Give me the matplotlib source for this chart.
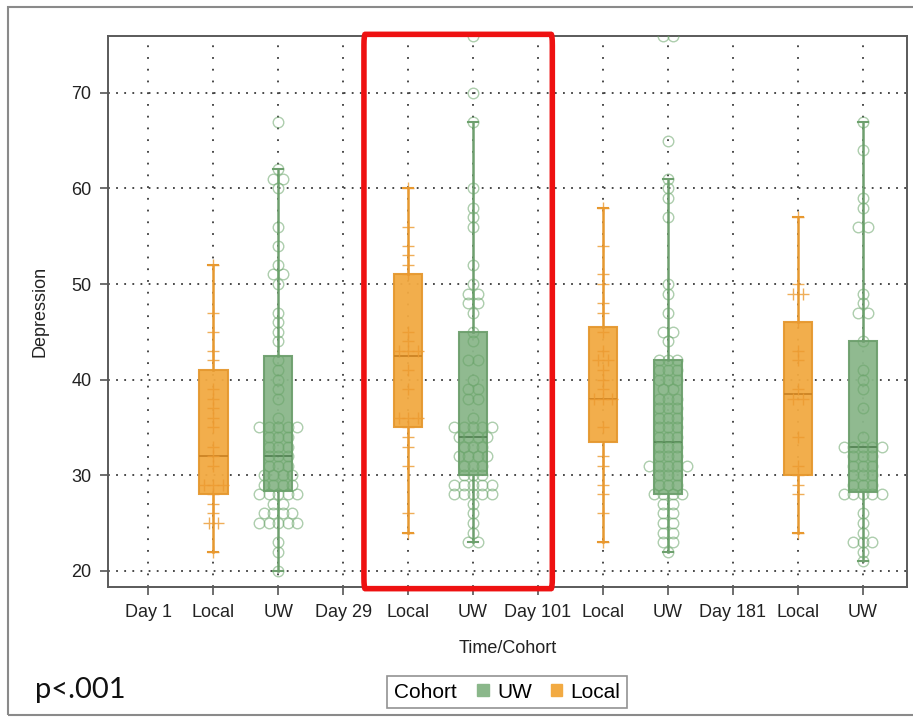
import matplotlib
matplotlib.use("Agg")
import numpy as np
import matplotlib.pyplot as plt
import matplotlib.transforms as mtransforms
from matplotlib.patches import Rectangle, Patch, FancyBboxPatch
from matplotlib.offsetbox import HPacker
from collections import Counter

plt.rcParams['font.family'] = ['Liberation Sans', 'DejaVu Sans']

# ---------------- data ----------------
tick_labels = ["Day 1", "Local", "UW", "Day 29", "Local", "UW",
               "Day 101", "Local", "UW", "Day 181", "Local", "UW"]
box_positions = [1, 2, 4, 5, 7, 8, 10, 11]
box_cohorts = ["Local", "UW", "Local", "UW", "Local", "UW", "Local", "UW"]
q1_vals = [28, 28.3, 35, 30, 33.5, 28, 30, 28.2]
median_vals = [32, 32, 42.5, 34, 38, 33.5, 38.5, 33]
q3_vals = [41, 42.5, 51, 45, 45.5, 42, 46, 44]
whisker_low = [22, 20, 24, 23, 23, 22, 24, 21]
whisker_high = [52, 62, 60, 67, 58, 61, 57, 67]

day1_local = [52, 47, 45, 43, 42, 39, 38, 37, 36, 35, 33, 32, 31, 29, 29, 29,
              28, 27, 26, 25, 25, 22]
day1_uw = ([67, 62, 61, 61, 60, 56, 54, 52, 51, 51, 50, 47, 46, 45, 44, 42, 41,
            40, 39, 38, 36] + [35] * 5 + [34] * 3 + [33] * 3 + [32] * 3 + [31] * 3
           + [30] * 4 + [29] * 4 + [28] * 5 + [27] * 2 + [26] * 4 + [25] * 5
           + [23, 22, 20])
day29_local = [60, 56, 54, 53, 52, 51, 45, 44, 43, 43, 43, 41, 39, 36, 36, 36,
               35, 34, 33, 31, 26, 24]
day29_uw = ([76, 70, 67, 60, 58, 57, 56, 52, 50, 49, 49, 48, 48, 47, 45, 44, 42,
             42, 40, 39, 39, 38, 38, 36] + [35] * 5 + [34] * 4 + [33] * 3
            + [32] * 4 + [31] * 3 + [30] * 3 + [29] * 5 + [28] * 5
            + [27, 26, 25, 24, 23, 23])
day101_local = [58, 54, 51, 50, 48, 47, 45, 43, 42, 42, 41, 40, 39, 38, 38, 38,
                35, 32, 31, 29, 28, 26, 23]
day101_uw = ([76, 76, 65, 61, 60, 59, 57, 50, 49, 47, 45, 45, 44] + [42] * 3
             + [41] * 3 + [40] * 3 + [39] * 2 + [38] * 3 + [37] * 3 + [36] * 3
             + [35] * 3 + [34] * 3 + [33] * 3 + [32] * 3 + [31] * 5 + [30] * 3
             + [29] * 3 + [28] * 4 + [27] * 2 + [26] * 2 + [25] * 2 + [24] * 2
             + [23] * 2 + [22])
day181_local = [57, 50, 49, 49, 46, 43, 42, 39, 38, 38, 34, 31, 30, 29, 28, 24]
day181_uw = ([67, 64, 59, 58, 56, 56, 49, 48, 47, 47, 44, 41, 40, 39, 37, 34]
             + [33] * 5 + [32] * 3 + [31] * 3 + [30] * 3 + [29] * 3 + [28] * 5
             + [26, 25, 24, 23, 23, 23, 22, 21])
group_points = [day1_local, day1_uw, day29_local, day29_uw,
                day101_local, day101_uw, day181_local, day181_uw]

y_ticks = [20, 30, 40, 50, 60, 70]

# ---------------- style ----------------
ORANGE_FILL = "#F2AA42"
ORANGE_EDGE = "#E5982F"
ORANGE_MED = "#C98020"
ORANGE_PT = "#EC9A30"
GREEN_FILL = "#8AB78A"
GREEN_EDGE = "#6E9F6E"
GREEN_MED = "#507F50"
GREEN_PT = "#6AA56A"

fig = plt.figure(figsize=(9.13, 7.21), dpi=100)
W, H = 913, 721
ax = fig.add_axes([108 / W, 1 - 587 / H, (907 - 108) / W, (587 - 36) / H])

ax.set_xlim(-0.62, 11.68)
ax.set_ylim(18.3, 75.95)

# grid
ax.set_axisbelow(True)
ax.grid(axis="y", linestyle=(0, (1, 3.5)), color="#3a3a3a", linewidth=1.3)
ax.grid(axis="x", linestyle=(0, (1, 5.5)), color="#3a3a3a", linewidth=1.3)

dx = 0.145
for pos, coh, lo, a, m, b, hi, pts in zip(box_positions, box_cohorts, whisker_low,
                                         q1_vals, median_vals, q3_vals,
                                         whisker_high, group_points):
    if coh == "Local":
        fill, edge, med = ORANGE_FILL, ORANGE_EDGE, ORANGE_MED
    else:
        fill, edge, med = GREEN_FILL, GREEN_EDGE, GREEN_MED
    stats = [dict(whislo=lo, q1=a, med=m, q3=b, whishi=hi, fliers=[])]
    ax.bxp(stats, positions=[pos], widths=0.44, capwidths=0.16,
           patch_artist=True, showfliers=False, manage_ticks=False,
           boxprops=dict(facecolor=fill, edgecolor=edge, linewidth=1.5, alpha=0.95),
           medianprops=dict(color=med, linewidth=1.2),
           whiskerprops=dict(color=edge, linewidth=1.8),
           capprops=dict(color=edge, linewidth=1.5))
    cnt = Counter(pts)
    xs, ys = [], []
    for v, n in cnt.items():
        offs = (np.arange(n) - (n - 1) / 2) * dx
        xs.extend(pos + offs)
        ys.extend([v] * n)
    if coh == "Local":
        ax.plot(xs, ys, linestyle="none", marker="+", markersize=9,
                markeredgewidth=1.0, color=ORANGE_PT, alpha=0.8, zorder=4)
    else:
        ax.plot(xs, ys, linestyle="none", marker="o", markersize=7.6,
                markerfacecolor="none", markeredgewidth=1.0,
                markeredgecolor=GREEN_PT, alpha=0.55, zorder=4)

ax.set_xticks(range(len(tick_labels)))
ax.set_xticklabels(tick_labels)
ax.set_yticks(y_ticks)
ax.tick_params(axis="both", direction="out", length=6, width=1.2,
               color="#555555", labelsize=13, labelcolor="#222222", pad=6)
for s in ax.spines.values():
    s.set_color("#5a5a5a")
    s.set_linewidth(1.4)

ax.set_xlabel("Time/Cohort", fontsize=13, color="#222222", labelpad=14)
ax.set_ylabel("Depression", fontsize=13, color="#222222", labelpad=16)

# highlight rectangle around Day 29 group
trans = mtransforms.blended_transform_factory(ax.transData, ax.transAxes)
hl = FancyBboxPatch((3.32, -0.003), 6.22 - 3.32, 1.006,
                    boxstyle="round,pad=0,rounding_size=0.02",
                    transform=trans, fill=False, edgecolor="#EE1111",
                    linewidth=4.0, clip_on=False, zorder=10)
ax.add_patch(hl)

# legend with title placed left of the entries
handles = [Patch(facecolor=GREEN_FILL, edgecolor=GREEN_FILL, label="UW"),
           Patch(facecolor=ORANGE_FILL, edgecolor=ORANGE_FILL, label="Local")]
leg = fig.legend(handles=handles, ncol=2, loc="center", title="Cohort",
                 title_fontsize=15,
                 bbox_to_anchor=(507 / W, 1 - 692 / H), fontsize=15,
                 frameon=True, fancybox=False, edgecolor="#777777",
                 handlelength=0.55, handleheight=0.55, handletextpad=0.4,
                 columnspacing=0.9, borderpad=0.3)
leg.get_frame().set_linewidth(1.2)
try:
    fs = leg._fontsize
    newbox = HPacker(pad=leg.borderpad * fs, sep=1.0 * fs, align="center",
                     children=[leg._legend_title_box, leg._legend_handle_box])
    newbox.set_figure(fig)
    leg._legend_box = newbox
    leg._legend_box.set_offset(leg._findoffset)
except Exception:
    pass

fig.text(35 / W, 1 - 690 / H, "p<.001", fontsize=21, family=["Lato", "DejaVu Sans"],
         va="center", ha="left", color="#111111")

# outer frame
fig.patches.append(Rectangle((8 / W, 1 - 715 / H), 920 / W, (715 - 7) / H,
                             transform=fig.transFigure, fill=False,
                             edgecolor="#8a8a8a", linewidth=1.5))

fig.savefig("out.png", dpi=100, facecolor="white")
